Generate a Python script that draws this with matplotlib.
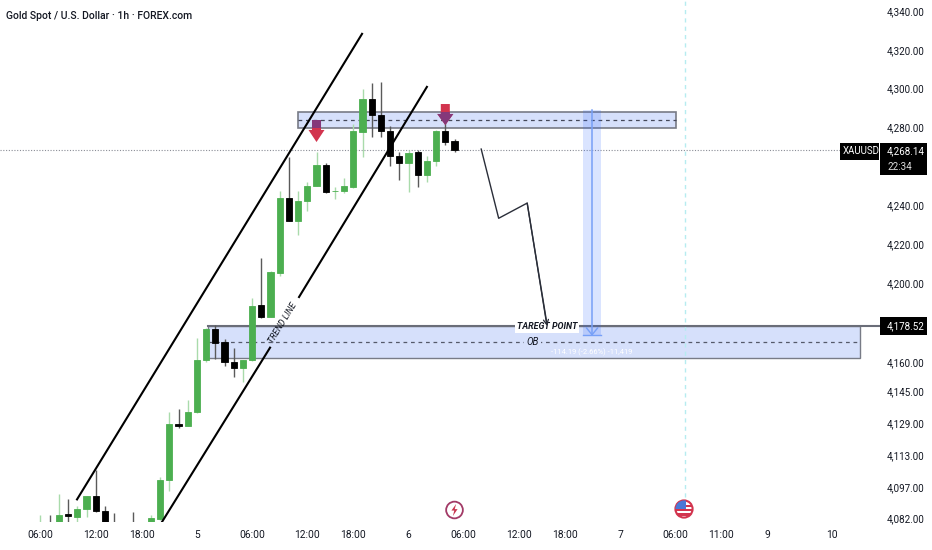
import numpy as np
import matplotlib
matplotlib.use("Agg")
import matplotlib.pyplot as plt
from matplotlib.patches import Rectangle, Polygon, Circle

# ---- data ----
bar_idx = [0,1,2,3,4,5,6,7,8,10,12,13,14,15,16,17,18,19,20,21,22,23,24,25,26,27,28,29,30,31,32,33,34,35,36,37,38,39,40,41,42,43,44,45]
opens  = [4070,4076,4078,4083.8,4082.5,4086.5,4092.5,4085.5,4076,4076,4078,4081.5,4100.4,4128.6,4127.6,4134.6,4160.8,4177,4170.5,4160,4157,4160.8,4188.8,4183,4205,4243.5,4232,4242,4249.7,4260.5,4247,4247,4249,4277.4,4294.4,4286,4278,4265,4261.5,4267,4255.3,4262.5,4278,4272.8]
closes = [4076,4072,4083.5,4083.0,4086.5,4092.5,4085.5,4076,4072,4072,4082,4100.4,4128.6,4127.6,4134.6,4160.8,4177,4170,4160,4157,4160.8,4188.3,4183,4205.5,4243.5,4232,4242,4249.7,4260.5,4246.6,4247.4,4249.7,4278,4294.4,4286,4278,4265,4261.5,4266.6,4255.3,4262.5,4278,4272.3,4268.14]
highs  = [4083.5,4083.5,4093.5,4091,4088,4092.5,4105.3,4088,4084.5,4085,4083.5,4102,4134.6,4136,4140.5,4172.5,4177.6,4179,4172,4167,4161,4192.4,4213,4206,4247,4264.6,4247,4252,4267,4261.5,4249,4253.8,4281.5,4299.5,4302.6,4303,4280.5,4267,4268,4268,4265,4278.5,4283.6,4274]
lows   = [4068,4070,4076,4076,4080,4082.5,4085,4074,4070,4070,4077,4081,4095,4126.6,4127.6,4134,4160,4161.3,4158,4152,4149.6,4160.5,4182.5,4183,4203.4,4232,4224.5,4237,4249.7,4246,4243,4246,4248.5,4264.6,4275,4275,4260,4252.8,4246.6,4249,4251.7,4260,4271,4267]

price_knots = [4000,4082,4097,4113,4129,4145,4160,4178.52,4200,4220,4240,4280,4300,4320,4340,4400]
pixel_knots = [682,518,487,455,423,391,362,326,283,244,205,127,88,50,11,-106]
y_ticks = [4340,4320,4300,4280,4240,4220,4200,4160,4145,4129,4113,4097,4082]
x_tick_pos = [0,6,11,17,23,29,34,40,46,52,57,63,69,74,79,86]
x_tick_lab = ["06:00","12:00","18:00","5","06:00","12:00","18:00","6","06:00","12:00","18:00","7","06:00","11:00","9","10"]

channel_upper_x, channel_upper_y = [3.97,34.95],[4091,4328.3]
trend_a_x, trend_a_y = [13.2,24.95],[4080,4167.4]
trend_b_x, trend_b_y = [28.1,42.0],[4193,4300.6]
path_x = [47.9,49.8,52.9,55.05]
path_y = [4268.7,4233.2,4241,4179.5]
last_price = 4268.14
target_price = 4178.52

GREEN="#4caf50"; GREEN_W="#a9dbab"; BLACK="#000000"; BLACK_W="#5a5a5a"
ZONE="#d6e0fb"; EDGE="#787b86"; RED="#d2344e"; PURPLE="#85387a"
plt.rcParams["font.family"]=["Roboto","DejaVu Sans"]

W,H=932,550
fig=plt.figure(figsize=(W/100,H/100),dpi=100,facecolor="white")
ax=fig.add_axes([0,28/H,1,522/H])
fwd=lambda p: -np.interp(p,price_knots,pixel_knots)
inv=lambda v: np.interp(v,-np.array(pixel_knots,float),price_knots)
ax.set_yscale("function",functions=(fwd,inv))
ax.set_xlim(-4.402,96.9)
ax.set_ylim(4080,4345.66)
for s in ax.spines.values(): s.set_visible(False)
ax.yaxis.tick_right()
ax.set_yticks(y_ticks); ax.set_yticklabels([f"{v:,.2f}" for v in y_ticks])
ax.minorticks_off()
ax.tick_params(axis="y",which="both",length=0,pad=-32.4,labelsize=7.1,labelcolor="#131722")
ax.set_xticks(x_tick_pos); ax.set_xticklabels(x_tick_lab)
ax.tick_params(axis="x",which="both",length=0,pad=6,labelsize=7.4,labelcolor="#131722")

# zones
up=Rectangle((28,4279.5),41.1,8.2,fc=ZONE,ec=EDGE,lw=1.2,zorder=1); ax.add_patch(up)
ax.plot([28,69.1],[4283.6,4283.6],color="#44485a",lw=0.9,ls=(0,(3,3)),zorder=1.2)
ax.add_patch(Rectangle((18.2,4162),70.9,16.5,fc=ZONE,ec=EDGE,lw=1.0,zorder=1))
ax.plot([18.2,89.1],[4170.3,4170.3],color="#55596a",lw=0.9,ls=(0,(3,3)),zorder=1.2)
ax.plot([18.2,91.3],[target_price,target_price],color="#6a6d78",lw=1.5,zorder=1.3)

# last price + vertical
ax.plot([-4.4,87],[last_price,last_price],color="#8a8d96",lw=0.8,ls=(0,(1,1.5)),zorder=1.1)
ax.plot([70.05,70.05],[4092,4345.6],color="#b6ecf0",lw=1,ls=(0,(3,3)),zorder=1)

# measure
ax.add_patch(Rectangle((59,4173.5),1.95,115.2,fc="#2962ff",ec="none",alpha=0.17,zorder=1.5))
ax.plot([59.95,59.95],[4174,4288.7],color="#77a0f7",lw=1.1,zorder=1.6)
ax.plot([59,60.95],[4174,4174],color="#77a0f7",lw=1,zorder=1.6)
ax.plot([59.35,59.95,60.55],[4177.5,4174,4177.5],color="#77a0f7",lw=1,zorder=1.6)
ax.text(59.9,4165,"-114.19 (-2.66%) -11,419",color="white",fontsize=5.4,ha="center",va="center",zorder=2)

# candles
for i,o,c,h,l in zip(bar_idx,opens,closes,highs,lows):
    up_bar=c>=o
    ax.plot([i,i],[l,h],color=GREEN_W if up_bar else BLACK_W,lw=1.0,zorder=3,solid_capstyle="butt")
    col=GREEN if up_bar else BLACK
    bottom=min(o,c); top=max(o,c)
    ax.add_patch(Rectangle((i-0.34,bottom),0.68,top-bottom,fc=col,ec=col,lw=0.6,zorder=3.2))

# channel
ax.plot(channel_upper_x,channel_upper_y,color="black",lw=1.5,zorder=4)
ax.plot(trend_a_x,trend_a_y,color="black",lw=1.5,zorder=4)
ax.plot(trend_b_x,trend_b_y,color="black",lw=1.5,zorder=4)
ax.text(26.4,4180,"TREND LINE",rotation=58.5,rotation_mode="anchor",ha="center",va="center",fontsize=6.2,style="italic",color="#131722",zorder=5)

# signal arrows
def arrow(cx,tip,shoulder,top):
    pts=[(cx-0.49,top),(cx+0.49,top),(cx+0.49,shoulder),(cx+0.87,shoulder),(cx,tip),(cx-0.87,shoulder),(cx-0.49,shoulder)]
    ax.add_patch(Polygon(pts,fc=RED,ec="none",zorder=5))
    p=Polygon(pts,fc=PURPLE,ec="none",zorder=5.1); ax.add_patch(p); p.set_clip_path(up)
arrow(30,4272.3,4278.5,4283.6)
arrow(44,4281,4286.7,4291.8)

# projected path
ax.plot(path_x,path_y,color="#2a2e39",lw=1,zorder=4)
ax.annotate("",xy=(path_x[-1],path_y[-1]-1),xytext=(path_x[-2],path_y[-2]),
            arrowprops=dict(arrowstyle="->",color="#2a2e39",lw=0.9,mutation_scale=9,shrinkA=0,shrinkB=0),zorder=4)
ax.text(55.1,target_price-0.5,"TAREGT POINT",fontsize=6.4,style="italic",fontweight="bold",color="#131722",ha="center",va="center",zorder=3.5,
        bbox=dict(fc="white",ec="none",pad=1.2))
ax.text(53.5,4170.3,"OB",fontsize=7,style="italic",color="#131722",ha="center",va="center",zorder=2,
        bbox=dict(fc=ZONE,ec="none",pad=1.5))

# right-hand labels (figure pixels)
def box(x0,y0,x1,y1,color="black"):
    fig.add_artist(Rectangle((x0/W,1-y1/H),(x1-x0)/W,(y1-y0)/H,fc=color,ec="none",transform=fig.transFigure,zorder=20))
def lab(x,y,s,**k):
    k.setdefault("color","white"); k.setdefault("fontsize",7.1)
    fig.text(x/W,1-y/H,s,ha="left",va="center",zorder=21,**k)
box(840,143,879,160); box(880,143,927,175); box(880,317,927,335)
lab(842.5,151.5,"XAUUSD",fontsize=6.9)
lab(887,151.5,"4,268.14")
lab(887,167,"22:34",color="#dddddd")
lab(887,326,"4,178.52")
lab(6,16,"Gold Spot / U.S. Dollar · 1h · FOREX.com",color="#131722",fontsize=7.5,fontweight="medium")

# event icons
def icon(cx,cy,r=11):
    a=fig.add_axes([(cx-r)/W,1-(cy+r)/H,2*r/W,2*r/H]); a.set_xlim(-1,1); a.set_ylim(-1,1); a.axis("off"); a.patch.set_alpha(0)
    return a
a=icon(454.5,510)
a.add_patch(Circle((0,0),0.76,fc="white",ec="#a23a66",lw=1.3))
a.add_patch(Polygon([(0.15,0.55),(-0.28,-0.05),(-0.02,-0.05),(-0.15,-0.55),(0.28,0.08),(0.02,0.08)],fc="#c8344e",ec="none"))
a=icon(684,509)
c=Circle((0,0),0.78,fc="white",ec="#d2344e",lw=1.5); a.add_patch(c)
for y0 in (-0.62,-0.22,0.16):
    r=Rectangle((-1,y0),2,0.22,fc="#d2344e",ec="none"); a.add_patch(r); r.set_clip_path(c)
r=Rectangle((-0.8,0.0),0.95,0.8,fc="#4a78d6",ec="none"); a.add_patch(r); r.set_clip_path(c)

fig.savefig("out.png",dpi=100)
